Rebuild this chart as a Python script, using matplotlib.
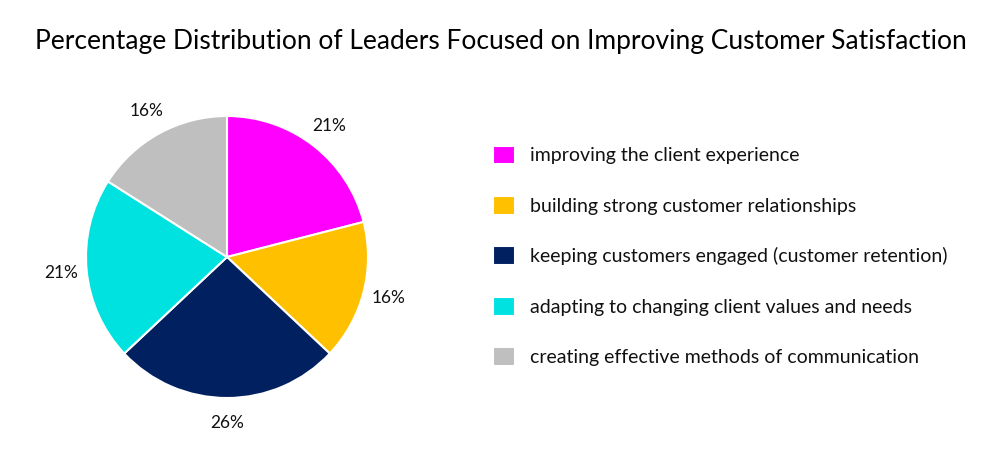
import matplotlib.pyplot as plt

plt.rcParams['font.family'] = ['Lato', 'DejaVu Sans']

# data
categories = ['improving the client experience',
              'building strong customer relationships',
              'keeping customers engaged (customer retention)',
              'adapting to changing client values and needs',
              'creating effective methods of communication']
shares = [21, 16, 26, 21, 16]
colors = ['#FF00FF', '#FFC000', '#002060', '#00E2E0', '#BFBFBF']

W, H = 1007, 468
fig = plt.figure(figsize=(W / 100, H / 100), dpi=100)

# pie axes: centre (227,257) px, radius 141 px
cx, cy, r = 227, 257, 141
ax = fig.add_axes([(cx - r) / W, (H - cy - r) / H, 2 * r / W, 2 * r / H])
wedges, texts, autotexts = ax.pie(shares, colors=colors, startangle=90, counterclock=False,
                                  autopct='%d%%', pctdistance=1.18,
                                  wedgeprops=dict(edgecolor='white', linewidth=1.5),
                                  textprops=dict(fontsize=12.5, color='#111111'))
ax.set_xlim(-1, 1)
ax.set_ylim(-1, 1)
ax.set_aspect('equal')

fig.text(0.497, 0.912, 'Percentage Distribution of Leaders Focused on Improving Customer Satisfaction',
         ha='center', va='center', fontsize=19, color='black')

fig.legend(wedges, categories, loc='upper left', bbox_to_anchor=(475 / W, 1 - 128 / H),
           frameon=False, fontsize=14, handlelength=1.15, handleheight=1.1,
           labelspacing=1.62, handletextpad=0.8, labelcolor='#111111')

fig.savefig('out.png', dpi=100)
